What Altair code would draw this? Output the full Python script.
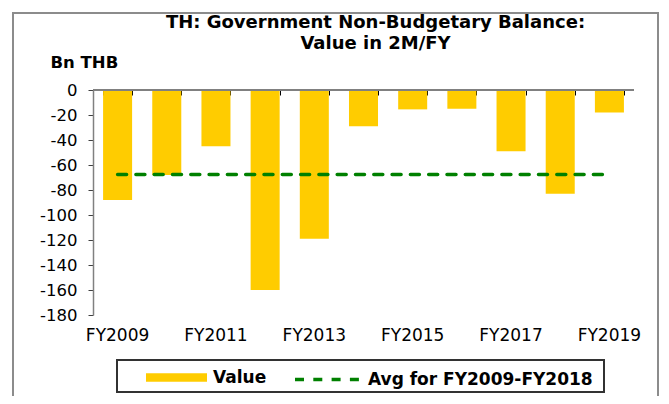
import altair as alt
import pandas as pd

# ---- data ----
years = ["FY2009", "FY2010", "FY2011", "FY2012", "FY2013", "FY2014",
         "FY2015", "FY2016", "FY2017", "FY2018", "FY2019"]
values = [-88, -68, -45, -160, -119, -29, -15.5, -15, -49, -83, -18]
avg_value = -67.5
series_names = ["Value", "Avg for FY2009-FY2018"]
y_ticks = [0, -20, -40, -60, -80, -100, -120, -140, -160, -180]
label_years = ["FY2009", "FY2011", "FY2013", "FY2015", "FY2017", "FY2019"]

bars_df = pd.DataFrame({"fy": years, "value": values, "series": series_names[0]})
avg_df = pd.DataFrame({"fy": years, "value": [avg_value] * len(years),
                       "series": series_names[1]})

FONT = "DejaVu Sans"

xscale = alt.Scale(domain=years, paddingInner=0.41, paddingOuter=0.205)
yscale = alt.Scale(domain=[-180, 0], nice=False)

yaxis = alt.Axis(values=y_ticks, tickCount=len(y_ticks) + 1,
                 title="Bn THB", titleAngle=0, titleAlign="left",
                 titleBaseline="alphabetic", titleX=-43, titleY=-23,
                 titleFont=FONT, titleFontSize=16.5, titleFontWeight="bold",
                 titleColor="black", grid=False, domainColor="#808080",
                 domainWidth=1.5, tickColor="#404040", tickSize=5,
                 labelPadding=11, labelFont=FONT, labelFontSize=16.5,
                 labelColor="black", labelOverlap=False, labelBound=False,
                 labelFlush=False, labelExpr="'' + datum.value")

legend_common = dict(title=None, orient="none", padding=0,
                     labelOffset=6, labelFont=FONT, labelFontSize=17,
                     labelFontWeight="bold", labelColor="black", labelLimit=400)

bars = alt.Chart(bars_df).mark_bar().encode(
    x=alt.X("fy:N", scale=xscale, sort=years,
            axis=alt.Axis(orient="bottom", values=label_years, ticks=False,
                          domain=False, labelAngle=0, labelPadding=12,
                          labelFont=FONT, labelFontSize=17, labelColor="black",
                          title=None)),
    y=alt.Y("value:Q", scale=yscale, axis=yaxis),
    fill=alt.Fill("series:N",
                  scale=alt.Scale(domain=[series_names[0]], range=["#FFCC00"]),
                  legend=alt.Legend(legendX=53, legendY=257,
                                    symbolType="M-1,-0.14H1V0.14H-1Z",
                                    symbolSize=3721, symbolStrokeWidth=0,
                                    symbolOpacity=1, **legend_common)),
)

avg_line = alt.Chart(avg_df).mark_line(
    strokeDash=[9, 9.3], strokeCap="round", strokeWidth=3.5
).encode(
    x=alt.X("fy:N", scale=xscale, sort=years,
            axis=alt.Axis(orient="top", labels=False, domain=False, ticks=True,
                          tickBand="extent", tickSize=5, offset=-5,
                          tickColor="black", tickWidth=1, title=None)),
    y=alt.Y("value:Q", scale=yscale, axis=yaxis),
    stroke=alt.Stroke("series:N",
                      scale=alt.Scale(domain=[series_names[1]], range=["#008000"]),
                      legend=alt.Legend(legendX=200, legendY=255,
                                        symbolType="M-1,0H1",
                                        symbolSize=4225, symbolStrokeWidth=3.5,
                                        symbolDash=[9, 9.3],
                                        symbolStrokeColor="#008000",
                                        symbolOpacity=1, **legend_common)),
)

zero_line = alt.Chart(bars_df).mark_rule(color="#808080", strokeWidth=2).encode(
    y=alt.datum(0)
)

frame = alt.Chart(bars_df).mark_rect(
    fill="transparent", stroke="#8c8c8c", strokeWidth=1.5
).encode(
    x=alt.value(-80), x2=alt.value(565), y=alt.value(-77), y2=alt.value(330)
)

legend_box = alt.Chart(bars_df).mark_rect(
    fill="transparent", stroke="#333333", strokeWidth=1.2
).encode(
    x=alt.value(24), x2=alt.value(511), y=alt.value(270), y2=alt.value(302)
)

chart = alt.layer(frame, legend_box, bars, zero_line, avg_line).resolve_axis(
    x="independent"
).properties(
    width=541, height=225,
    padding={"left": 85, "top": 82, "right": 27, "bottom": 81},
    autosize=alt.AutoSizeParams(type="none"),
    background="white",
    title=alt.Title(["TH: Government Non-Budgetary Balance:", "Value in 2M/FY"],
                    font=FONT, fontSize=18, fontWeight="bold", color="black",
                    anchor="middle", frame="group", dx=12, lineHeight=21,
                    offset=-41),
).configure_view(stroke=None).configure_axis(labelOverlap=False)

chart.save("out.html", embed_options={"renderer": "svg", "actions": False})
